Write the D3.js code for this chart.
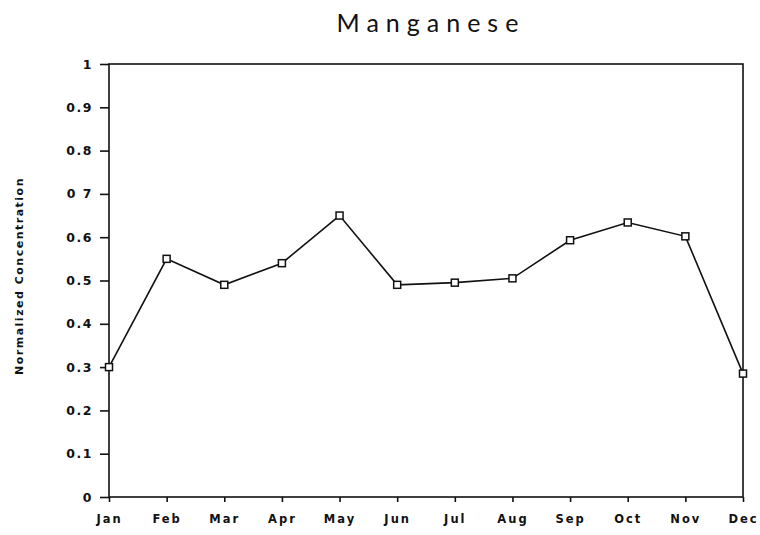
<!DOCTYPE html>
<html>
<head>
<meta charset="utf-8">
<script src="https://cdn.jsdelivr.net/npm/d3@7"></script>
<style>
	body { margin: 0; background: #fff; }
	svg { display: block; }
</style>
</head>
<body>
<div id="chart"></div>
<script>
// chart data
const months = ["Jan","Feb","Mar","Apr","May","Jun","Jul","Aug","Sep","Oct","Nov","Dec"]
const concentration = [0.30, 0.55, 0.49, 0.54, 0.65, 0.49, 0.495, 0.505, 0.593, 0.634, 0.602, 0.285]
const yTicks = [0, 0.1, 0.2, 0.3, 0.4, 0.5, 0.6, 0.7, 0.8, 0.9, 1]
const yTickLabels = ["0","0.1","0.2","0.3","0.4","0.5","0.6","0 7","0.8","0.9","1"]

const width = 760, height = 535
const margin = {top: 64, right: 17, bottom: 38, left: 109}
const tickFont = "'DejaVu Sans', sans-serif"
const titleFont = "Lato, 'DejaVu Sans', sans-serif"

const svg = d3.select("#chart").append("svg")
	.attr("width", width)
	.attr("height", height)

const xScale = d3.scalePoint()
	.domain(months)
	.range([margin.left, width - margin.right])

const yScale = d3.scaleLinear()
	.domain([0, 1])
	.range([height - margin.bottom, margin.top])

// frame
svg.append("rect")
	.attr("x", margin.left)
	.attr("y", margin.top)
	.attr("width", width - margin.right - margin.left)
	.attr("height", height - margin.bottom - margin.top)
	.attr("fill", "none")
	.attr("stroke", "#111")
	.attr("stroke-width", 1.6)

// y axis
let yAxisGroup = svg.append("g")
	.attr("transform", "translate(" + margin.left + ",0)")
	.call(d3.axisLeft(yScale)
		.tickValues(yTicks)
		.tickFormat((d, i) => yTickLabels[i])
		.tickSize(9)
		.tickPadding(7)
	)
yAxisGroup.select(".domain").remove()
yAxisGroup.selectAll("line")
	.attr("stroke", "#111")
	.attr("stroke-width", 1.6)
yAxisGroup.selectAll("text")
	.style("font-family", tickFont)
	.style("font-weight", "bold")
	.style("font-size", "12.5px")
	.style("letter-spacing", "1.5px")
	.attr("fill", "#111")

// x axis
let xAxisGroup = svg.append("g")
	.attr("transform", "translate(0," + (height - margin.bottom) + ")")
	.call(d3.axisBottom(xScale)
		.tickSize(5)
		.tickPadding(13)
	)
xAxisGroup.select(".domain").remove()
xAxisGroup.selectAll("line")
	.attr("stroke", "#111")
	.attr("stroke-width", 1.6)
xAxisGroup.selectAll("text")
	.style("font-family", tickFont)
	.style("font-weight", "bold")
	.style("font-size", "11.5px")
	.style("letter-spacing", "2px")
	.attr("fill", "#111")

// line
const line = d3.line()
	.x((d, i) => xScale(months[i]))
	.y(d => yScale(d))

svg.append("path")
	.datum(concentration)
	.attr("d", line)
	.attr("fill", "none")
	.attr("stroke", "#111")
	.attr("stroke-width", 1.6)

// square markers
svg.selectAll(".marker")
	.data(concentration)
	.join("rect")
	.attr("class", "marker")
	.attr("x", (d, i) => xScale(months[i]) - 3.5)
	.attr("y", d => yScale(d) - 3.5)
	.attr("width", 7)
	.attr("height", 7)
	.attr("fill", "#fff")
	.attr("stroke", "#111")
	.attr("stroke-width", 1.5)

// title
svg.append("text")
	.attr("x", 431)
	.attr("y", 32)
	.attr("text-anchor", "middle")
	.style("font-family", titleFont)
	.style("font-size", "25px")
	.style("letter-spacing", "7px")
	.attr("fill", "#111")
	.text("Manganese")

// y label
svg.append("text")
	.attr("transform", "translate(23," + 276 + ") rotate(-90)")
	.attr("text-anchor", "middle")
	.style("font-family", tickFont)
	.style("font-weight", "bold")
	.style("font-size", "11px")
	.style("letter-spacing", "1.5px")
	.attr("fill", "#111")
	.text("Normalized Concentration")
</script>
</body>
</html>
